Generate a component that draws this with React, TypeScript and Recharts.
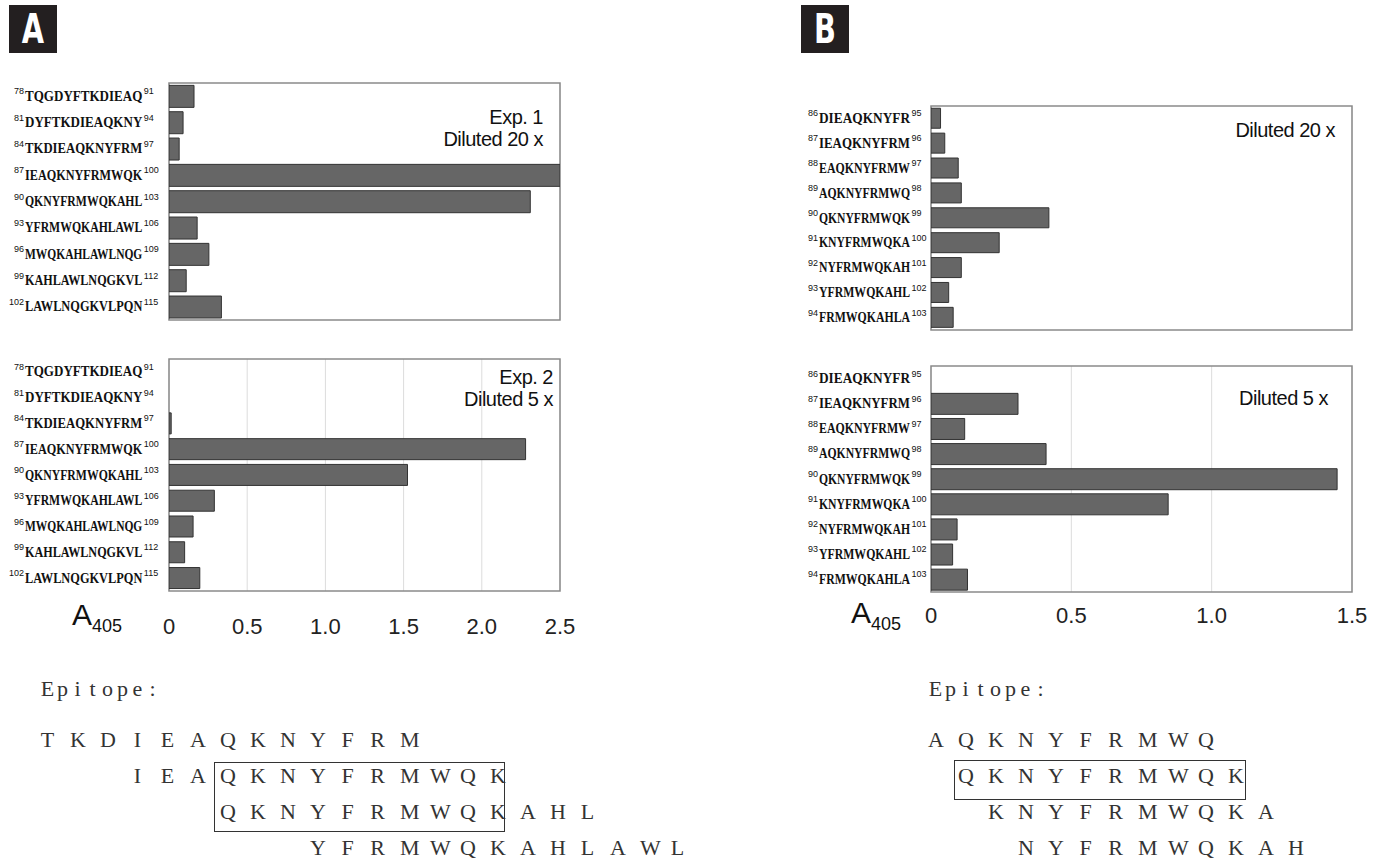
import React from 'react';
import { BarChart, Bar, XAxis, YAxis, CartesianGrid, ReferenceArea } from 'recharts';

// peptide labels (panel A)
const aSeq = ['TQGDYFTKDIEAQ', 'DYFTKDIEAQKNY', 'TKDIEAQKNYFRM', 'IEAQKNYFRMWQK', 'QKNYFRMWQKAHL', 'YFRMWQKAHLAWL', 'MWQKAHLAWLNQG', 'KAHLAWLNQGKVL', 'LAWLNQGKVLPQN'];
const aStart = [78, 81, 84, 87, 90, 93, 96, 99, 102];
const aEnd = [91, 94, 97, 100, 103, 106, 109, 112, 115];
const aExp1 = [0.16, 0.09, 0.065, 2.5, 2.31, 0.18, 0.255, 0.11, 0.335];
const aExp2 = [0, 0, 0.014, 2.28, 1.525, 0.29, 0.154, 0.1, 0.197];
const aTicks = [0, 0.5, 1, 1.5, 2, 2.5];

// peptide labels (panel B)
const bSeq = ['DIEAQKNYFR', 'IEAQKNYFRM', 'EAQKNYFRMW', 'AQKNYFRMWQ', 'QKNYFRMWQK', 'KNYFRMWQKA', 'NYFRMWQKAH', 'YFRMWQKAHL', 'FRMWQKAHLA'];
const bStart = [86, 87, 88, 89, 90, 91, 92, 93, 94];
const bEnd = [95, 96, 97, 98, 99, 100, 101, 102, 103];
const bDil20 = [0.034, 0.049, 0.097, 0.108, 0.42, 0.243, 0.108, 0.063, 0.079];
const bDil5 = [0, 0.31, 0.12, 0.41, 1.447, 0.845, 0.093, 0.077, 0.13];
const bTicks = [0, 0.5, 1, 1.5];

const epiA = [
  'T K D I E A Q K N Y F R M',
  '      I E A Q K N Y F R M W Q K',
  '            Q K N Y F R M W Q K A H L',
  '                  Y F R M W Q K A H L A W L',
];
const epiB = [
  'A Q K N Y F R M W Q',
  '  Q K N Y F R M W Q K',
  '    K N Y F R M W Q K A',
  '      N Y F R M W Q K A H',
];

const rows = (seq: string[], vals: number[]) => seq.map((s, i) => ({ seq: s, v: vals[i] }));

const fmt = (v: number) => (v === 0 ? '0' : v.toFixed(1));

const SERIF = 'Liberation Serif, DejaVu Serif, serif';
const SANS = 'Liberation Sans, Arial, sans-serif';

// bold serif label squeezed to a fixed pitch, with superscript residue numbers
function PepTick(props: any) {
  const { x, y, payload, seqs, starts, ends, shift, pitch } = props;
  const i = seqs.indexOf(payload.value);
  const x0 = x - shift;
  const n = String(payload.value).length;
  return (
    <g fill="#111">
      <text x={x0 - 1} y={y - 2} textAnchor="end" fontSize={9} fontFamily={SANS}>
        {starts[i]}
      </text>
      <text x={x0} y={y + 4.5} fontSize={14.5} fontWeight="bold" fontFamily={SERIF}>
        <tspan textLength={n * pitch - 1} lengthAdjust="spacingAndGlyphs">{payload.value}</tspan>
        <tspan dx={1.5} dy={-6.5} fontSize={9} fontWeight="normal" fontFamily={SANS}>{ends[i]}</tspan>
      </text>
    </g>
  );
}

function NumTick(props: any) {
  const { x, y, payload, dy } = props;
  return (
    <text x={x} y={y + dy} textAnchor="middle" fontSize={22} fontFamily={SANS} fill="#222">
      {fmt(payload.value)}
    </text>
  );
}

interface PanelProps {
  left: number;
  top: number;
  width: number;
  height: number;
  margin: { top: number; right: number; bottom: number; left: number };
  yWidth: number;
  data: Array<{ seq: string; v: number }>;
  seqs: string[];
  starts: number[];
  ends: number[];
  shift: number;
  pitch: number;
  ticks: number[];
  showTicks: boolean;
  tickDy: number;
  xHeight: number;
}

function Panel(p: PanelProps) {
  const max = p.ticks[p.ticks.length - 1];
  return (
    <div style={{ position: 'absolute', left: p.left, top: p.top }}>
      <BarChart width={p.width} height={p.height} data={p.data} layout="vertical" margin={p.margin} barCategoryGap="9%">
        <CartesianGrid horizontal={false} stroke="#dcdcdc" />
        <XAxis
          type="number"
          domain={[0, max]}
          ticks={p.ticks}
          allowDataOverflow
          axisLine={false}
          tickLine={false}
          tickSize={0}
          tickMargin={0}
          height={p.xHeight}
          tick={p.showTicks ? (t: any) => <NumTick {...t} dy={p.tickDy} /> : false}
        />
        <YAxis
          type="category"
          dataKey="seq"
          width={p.yWidth}
          axisLine={false}
          tickLine={false}
          tickSize={0}
          tickMargin={0}
          interval={0}
          tick={(t: any) => <PepTick {...t} seqs={p.seqs} starts={p.starts} ends={p.ends} shift={p.shift} pitch={p.pitch} />}
        />
        <Bar dataKey="v" fill="#666666" stroke="#333333" strokeWidth={1} isAnimationActive={false} />
        <ReferenceArea x1={0} x2={max} fill="none" stroke="#8a8a8a" strokeWidth={1.5} />
      </BarChart>
    </div>
  );
}

const note: React.CSSProperties = {
  position: 'absolute',
  fontFamily: SANS,
  fontSize: 20,
  letterSpacing: -0.5,
  color: '#111',
  textAlign: 'right',
  lineHeight: '22px',
  whiteSpace: 'nowrap',
};

const badge: React.CSSProperties = {
  position: 'absolute',
  top: 5,
  width: 48,
  height: 48,
  background: '#231f20',
  color: '#fff',
  overflow: 'hidden',
};

function Badge({ left, label }: { left: number; label: string }) {
  return (
    <div style={{ ...badge, left }}>
      <div
        style={{
          fontFamily: 'DejaVu Sans, sans-serif',
          fontWeight: 'bold',
          fontSize: 40,
          lineHeight: '48px',
          textAlign: 'center',
          transform: 'scaleX(0.72)',
        }}
      >
        {label}
      </div>
    </div>
  );
}

// one line of letters on a fixed 15px grid
function MonoLine({ text, left, top }: { text: string; left: number; top: number }) {
  return (
    <div style={{ position: 'absolute', left, top, height: 18, lineHeight: '18px', whiteSpace: 'nowrap', fontFamily: SERIF, fontSize: 22, color: '#333' }}>
      {text.split('').map((c, k) => (
        <span key={k} style={{ display: 'inline-block', width: 15, textAlign: 'center' }}>
          {c === ' ' ? '\u00a0' : c}
        </span>
      ))}
    </div>
  );
}

function A405({ left, top }: { left: number; top: number }) {
  return (
    <div style={{ position: 'absolute', left, top, fontFamily: SANS, color: '#111', whiteSpace: 'nowrap' }}>
      <span style={{ fontSize: 30 }}>A</span>
      <span style={{ fontSize: 18, position: 'relative', top: 7 }}>405</span>
    </div>
  );
}

export default function App() {
  return (
    <div style={{ position: 'absolute', left: 0, top: 0, width: 1375, height: 860, background: '#fff', overflow: 'hidden' }}>
      <Badge left={9} label="A" />
      <Badge left={801} label="B" />

      <Panel left={0} top={0} width={580} height={340} margin={{ top: 83, right: 20, bottom: 20, left: 0 }} yWidth={169}
        data={rows(aSeq, aExp1)} seqs={aSeq} starts={aStart} ends={aEnd} shift={144} pitch={9.1} ticks={aTicks} showTicks={false} tickDy={0} xHeight={0} />
      <Panel left={0} top={340} width={580} height={320} margin={{ top: 19, right: 20, bottom: 0, left: 0 }} yWidth={169}
        data={rows(aSeq, aExp2)} seqs={aSeq} starts={aStart} ends={aEnd} shift={144} pitch={9.1} ticks={aTicks} showTicks tickDy={43} xHeight={69} />
      <Panel left={780} top={0} width={595} height={340} margin={{ top: 106, right: 23, bottom: 10, left: 0 }} yWidth={151}
        data={rows(bSeq, bDil20)} seqs={bSeq} starts={bStart} ends={bEnd} shift={112} pitch={9.2} ticks={bTicks} showTicks={false} tickDy={0} xHeight={0} />
      <Panel left={780} top={340} width={595} height={320} margin={{ top: 26, right: 23, bottom: 0, left: 0 }} yWidth={151}
        data={rows(bSeq, bDil5)} seqs={bSeq} starts={bStart} ends={bEnd} shift={112} pitch={9.2} ticks={bTicks} showTicks tickDy={31} xHeight={68} />

      <div style={{ ...note, right: 1375 - 543, top: 106 }}>Exp. 1<br />Diluted 20 x</div>
      <div style={{ ...note, right: 1375 - 553, top: 366 }}>Exp. 2<br />Diluted 5 x</div>
      <div style={{ ...note, right: 1375 - 1335, top: 119 }}>Diluted 20 x</div>
      <div style={{ ...note, right: 1375 - 1328, top: 387 }}>Diluted 5 x</div>

      <A405 left={72} top={598} />
      <A405 left={851} top={596} />

      <MonoLine text="Epitope:" left={40} top={680} />
      {epiA.map((s, i) => (
        <MonoLine key={'a' + i} text={s} left={40} top={731 + i * 36} />
      ))}
      <div style={{ position: 'absolute', left: 214, top: 762, width: 291, height: 70, border: '1px solid #333', boxSizing: 'border-box' }} />

      <MonoLine text="Epitope:" left={928} top={680} />
      {epiB.map((s, i) => (
        <MonoLine key={'b' + i} text={s} left={928} top={731 + i * 36} />
      ))}
      <div style={{ position: 'absolute', left: 954, top: 760, width: 292, height: 40, border: '1px solid #333', boxSizing: 'border-box' }} />
    </div>
  );
}
